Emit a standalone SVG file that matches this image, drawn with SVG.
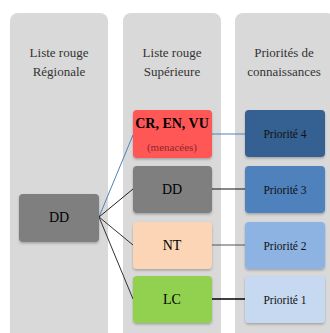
<svg xmlns="http://www.w3.org/2000/svg" width="330" height="333" viewBox="0 0 330 333" font-family="'Liberation Serif', 'DejaVu Serif', serif">
<defs>
<filter id="sh" x="-10%" y="-10%" width="120%" height="130%">
<feDropShadow dx="0" dy="1.5" stdDeviation="1" flood-color="#000" flood-opacity="0.25"/>
</filter>
<style>
.col{fill:#d9d9d9}
.hd{font-size:13px;fill:#333;text-anchor:middle}
.bx{font-size:14px;fill:#000;text-anchor:middle}
.pr{font-size:11.5px;fill:#111;text-anchor:middle}
.b{filter:url(#sh)}
.ln{fill:none;stroke-width:1}
</style>
</defs>
<rect width="330" height="333" fill="#fff"/>
<g id="col1"><rect class="col" x="10" y="13" width="98" height="332" rx="8"/>
<text class="hd" x="59" y="57">Liste rouge</text><text class="hd" x="59" y="76">Régionale</text></g>
<g id="col2"><rect class="col" x="123" y="13" width="98" height="332" rx="8"/>
<text class="hd" x="172" y="57">Liste rouge</text><text class="hd" x="172" y="76">Supérieure</text></g>
<g id="col3"><rect class="col" x="235" y="13" width="100" height="332" rx="8"/>
<text class="hd" x="284" y="57">Priorités de</text><text class="hd" x="284" y="76">connaissances</text></g>
<g id="connectors">
<line class="ln" x1="99" y1="217" x2="133" y2="135" stroke="#4f81bd"/>
<line class="ln" x1="99" y1="217" x2="133" y2="189" stroke="#222"/>
<line class="ln" x1="99" y1="217" x2="133" y2="245" stroke="#333"/>
<line class="ln" x1="99" y1="217" x2="133" y2="299" stroke="#333"/>
<line class="ln" x1="212" y1="134" x2="245" y2="134" stroke="#4f81bd"/>
<line class="ln" x1="212" y1="189" x2="245" y2="189" stroke="#111"/>
<line class="ln" x1="212" y1="245" x2="245" y2="245" stroke="#555"/>
<line x1="212" y1="299" x2="245" y2="299" stroke="#000" stroke-width="1.5"/>
</g>
<g id="dd1"><rect class="b" x="19" y="194" width="80" height="48" rx="4" fill="#7f7f7f"/><text class="bx" x="59" y="222">DD</text></g>
<g id="crenvu"><rect class="b" x="133" y="110" width="79" height="48" rx="4" fill="#ff5757"/>
<text class="bx" x="172" y="128" font-size="13" font-weight="bold">CR, EN, VU</text>
<text x="172" y="151" font-size="11" fill="#8b2a2a" text-anchor="middle">(menacées)</text></g>
<g id="dd2"><rect class="b" x="133" y="166" width="79" height="47" rx="4" fill="#7f7f7f"/><text class="bx" x="172" y="194">DD</text></g>
<g id="nt"><rect class="b" x="133" y="222" width="79" height="47" rx="4" fill="#fbd5b5"/><text class="bx" x="172" y="250">NT</text></g>
<g id="lc"><rect class="b" x="133" y="276" width="79" height="47" rx="4" fill="#92d050"/><text class="bx" x="172" y="304">LC</text></g>
<g id="p4"><rect class="b" x="245" y="110" width="80" height="47" rx="4" fill="#366092"/><text class="pr" x="285" y="138">Priorité 4</text></g>
<g id="p3"><rect class="b" x="245" y="166" width="80" height="47" rx="4" fill="#4f81bd"/><text class="pr" x="285" y="194">Priorité 3</text></g>
<g id="p2"><rect class="b" x="245" y="222" width="80" height="47" rx="4" fill="#8db3e2"/><text class="pr" x="285" y="250">Priorité 2</text></g>
<g id="p1"><rect class="b" x="245" y="276" width="80" height="47" rx="4" fill="#c6d9f1"/><text class="pr" x="285" y="304">Priorité 1</text></g>
</svg>
